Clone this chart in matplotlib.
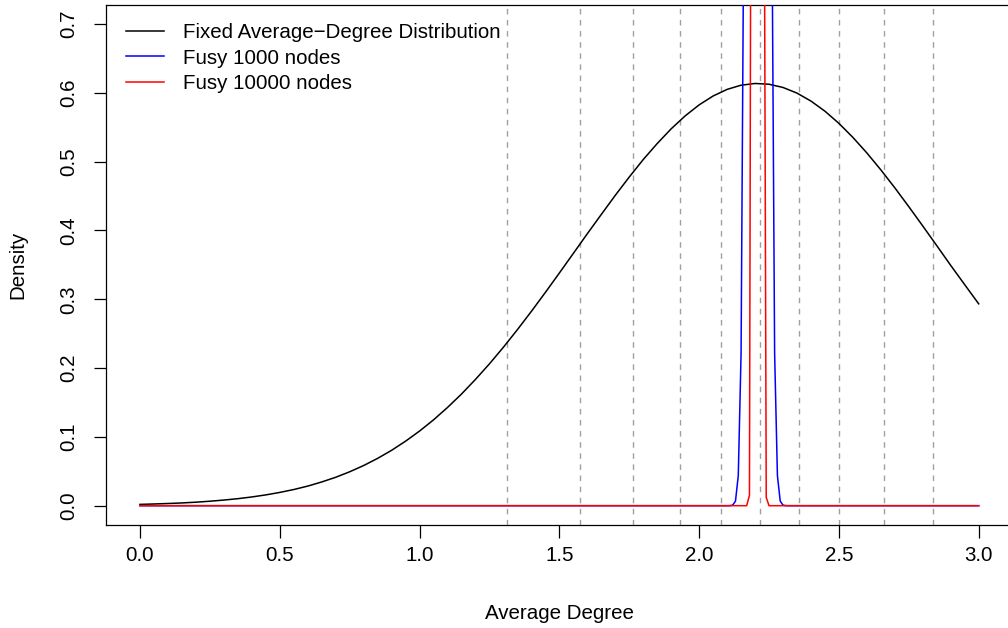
import matplotlib
matplotlib.use("Agg")
import matplotlib.pyplot as plt

# ---- data ----
fixed_x = [0.00, 0.05, 0.10, 0.15, 0.20, 0.25, 0.30, 0.35, 0.40, 0.45, 0.50,
           0.55, 0.60, 0.65, 0.70, 0.75, 0.80, 0.85, 0.90, 0.95, 1.00,
           1.05, 1.10, 1.15, 1.20, 1.25, 1.30, 1.35, 1.40, 1.45, 1.50,
           1.55, 1.60, 1.65, 1.70, 1.75, 1.80, 1.85, 1.90, 1.95, 2.00,
           2.05, 2.10, 2.15, 2.20, 2.25, 2.30, 2.35, 2.40, 2.45, 2.50,
           2.55, 2.60, 2.65, 2.70, 2.75, 2.80, 2.85, 2.90, 2.95, 3.00]
fixed_y = [0.0019, 0.0025, 0.0032, 0.0040, 0.0051, 0.0065, 0.0082, 0.0102, 0.0127, 0.0157, 0.0193,
           0.0235, 0.0285, 0.0345, 0.0413, 0.0493, 0.0584, 0.0688, 0.0805, 0.0938, 0.1085,
           0.1248, 0.1428, 0.1623, 0.1836, 0.2062, 0.2304, 0.2559, 0.2825, 0.3100, 0.3382,
           0.3667, 0.3953, 0.4233, 0.4511, 0.4777, 0.5031, 0.5264, 0.5478, 0.5666, 0.5826,
           0.5955, 0.6051, 0.6112, 0.6137, 0.6126, 0.6079, 0.5997, 0.5881, 0.5734, 0.5557,
           0.5353, 0.5127, 0.4881, 0.4620, 0.4346, 0.4065, 0.3780, 0.3492, 0.3212, 0.2934]

fusy1000_x = [0.0, 2.10, 2.11, 2.12, 2.13, 2.14, 2.15, 2.16, 2.17, 2.18, 2.19, 2.20, 2.21,
              2.22, 2.23, 2.24, 2.25, 2.26, 2.27, 2.28, 2.29, 2.30, 2.31, 2.32, 3.0]
fusy1000_y = [0.0, 0.0, 0.0001, 0.0008, 0.0067, 0.0437, 0.2216, 0.8766, 2.70, 6.477, 12.10, 17.61, 19.95,
              17.61, 12.10, 6.477, 2.70, 0.8766, 0.2216, 0.0437, 0.0067, 0.0008, 0.0001, 0.0, 0.0]

fusy10000_x = [0.0, 2.17, 2.18, 2.19, 2.20, 2.21, 2.22, 2.23, 2.24, 2.25, 3.0]
fusy10000_y = [0.0, 0.0, 0.015, 1.84, 25.6, 54.6, 21.4, 1.28, 0.012, 0.0, 0.0]

vlines_x = [1.312, 1.574, 1.765, 1.930, 2.077, 2.217, 2.356, 2.500, 2.660, 2.835]

xticks = [0.0, 0.5, 1.0, 1.5, 2.0, 2.5, 3.0]
yticks = [0.0, 0.1, 0.2, 0.3, 0.4, 0.5, 0.6, 0.7]

labels = ["Fixed Average\u2212Degree Distribution", "Fusy 1000 nodes", "Fusy 10000 nodes"]

# ---- figure ----
plt.rcParams['font.family'] = ['Liberation Sans', 'DejaVu Sans']
FS = 14.8
W, H = 1008, 628
fig = plt.figure(figsize=(W / 100, H / 100), dpi=100)

x0, x1 = -0.12, 3.12
y0, y1 = -0.028, 0.728
ppx = 279.57
ppy = 688.0
left_px = 140 - 0.12 * ppx
bottom_px = 505.7 + 0.028 * ppy  # from top
ax = fig.add_axes([left_px / W, (H - bottom_px) / H, (x1 - x0) * ppx / W, (y1 - y0) * ppy / H])
ax.set_xlim(x0, x1)
ax.set_ylim(y0, y1)

for vx in vlines_x:
    ax.axvline(vx, color='#a0a0a0', lw=1.0, linestyle=(0, (4, 4)), zorder=1)

l1, = ax.plot(fixed_x, fixed_y, color='black', lw=1.1, zorder=3)
l2, = ax.plot(fusy1000_x, fusy1000_y, color='#0000ff', lw=1.1, zorder=4)
l3, = ax.plot(fusy10000_x, fusy10000_y, color='#ff0000', lw=1.1, zorder=5)

for s in ax.spines.values():
    s.set_linewidth(0.9)
    s.set_color('black')

ax.set_xticks(xticks)
ax.set_xticklabels([f"{t:.1f}" for t in xticks])
ax.set_yticks(yticks)
ax.set_yticklabels([f"{t:.1f}" for t in yticks], rotation=90, va='center')
ax.tick_params(axis='both', length=9, width=0.9, labelsize=FS)
ax.tick_params(axis='x', pad=6.5)
ax.tick_params(axis='y', pad=11)

ax.set_xlabel("Average Degree", fontsize=FS, labelpad=28)
ax.set_ylabel("Density", fontsize=FS, labelpad=23)

ax.legend([l1, l2, l3], labels, loc='upper left', frameon=False, fontsize=FS,
          handlelength=1.85, handletextpad=0.88, labelspacing=0.32,
          borderaxespad=0.0, bbox_to_anchor=(0.013, 0.981))

fig.savefig("out.png", dpi=100)
